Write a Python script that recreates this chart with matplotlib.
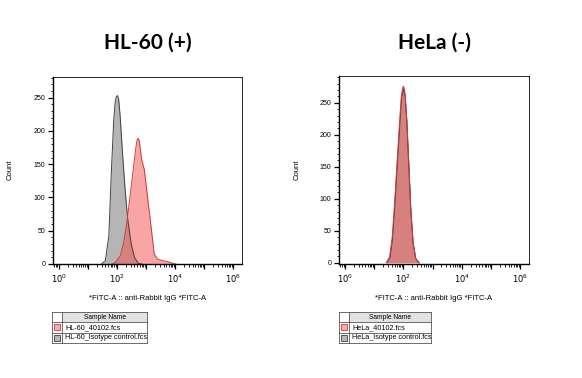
import numpy as np
import matplotlib
matplotlib.use("Agg")
import matplotlib.pyplot as plt
from matplotlib.ticker import MultipleLocator, LogLocator, NullFormatter
from matplotlib.patches import Rectangle

# Histogram outlines: log10(FITC-A) position and count
hl60_iso_log = [1.47, 1.60, 1.72, 1.81, 1.89, 1.94, 1.98, 2.02, 2.06, 2.11,
                2.19, 2.28, 2.37, 2.49, 2.60, 2.73, 2.85]
hl60_iso_cnt = [0, 5, 42, 142, 217, 244, 252, 253, 247, 222,
                167, 112, 67, 30, 10, 1, 0]
hl60_pos_log = [1.83, 1.94, 2.11, 2.23, 2.34, 2.45, 2.56, 2.64, 2.69, 2.73,
                2.77, 2.85, 2.94, 3.02, 3.13, 3.21, 3.28, 3.41, 3.58, 3.75,
                3.92, 4.03]
hl60_pos_cnt = [0, 2, 12, 32, 62, 102, 142, 172, 186, 189,
                184, 157, 142, 112, 72, 42, 15, 7, 5, 3.5,
                1, 0]
hela_pos_log = [1.42, 1.53, 1.62, 1.70, 1.79, 1.87, 1.93, 1.97, 2.00, 2.03,
                2.06, 2.12, 2.20, 2.26, 2.34, 2.43, 2.55]
hela_pos_cnt = [0, 9, 40, 93, 161, 219, 260, 272, 276, 273,
                264, 224, 145, 82, 30, 6, 0]
hela_iso_log = [1.44, 1.55, 1.63, 1.71, 1.80, 1.88, 1.94, 2.00, 2.06, 2.12,
                2.19, 2.25, 2.33, 2.42, 2.53]
hela_iso_cnt = [0, 8, 36, 88, 155, 214, 256, 272, 262, 220,
                148, 86, 32, 7, 0]

titles = ["HL-60 (+)", "HeLa (-)"]
sample_names = [["HL-60_40102.fcs", "HL-60_Isotype control.fcs"],
                ["HeLa_40102.fcs", "HeLa_Isotype control.fcs"]]
xlabel = "*FITC-A :: anti-Rabbit IgG *FITC-A"

red_face = (0.97, 0.30, 0.30)
red_edge = "#c83c3c"
gray_face = (0.52, 0.52, 0.52)
gray_edge = "#404040"

W, H = 582, 378
fig = plt.figure(figsize=(W / 100, H / 100), dpi=100)
plt.rcParams['font.family'] = ['Liberation Sans', 'DejaVu Sans']


def px_axes(x0, y0, x1, y1):
    """Axes from pixel box (top-left origin)."""
    return fig.add_axes([x0 / W, 1 - y1 / H, (x1 - x0) / W, (y1 - y0) / H])


panels = [
    dict(box=(53, 77, 242, 264), ylim=(0, 281),
         iso=(hl60_iso_log, hl60_iso_cnt), pos=(hl60_pos_log, hl60_pos_cnt),
         ylab_x=10, table=(52, 312, 147)),
    dict(box=(339, 76, 529, 264), ylim=(-2, 292),
         iso=(hela_iso_log, hela_iso_cnt), pos=(hela_pos_log, hela_pos_cnt),
         ylab_x=297, table=(339, 312, 431)),
]

for i, p in enumerate(panels):
    ax = px_axes(*p['box'])
    xi = 10 ** np.array(p['iso'][0])
    xp = 10 ** np.array(p['pos'][0])
    ax.fill_between(xi, p['iso'][1], color=gray_face, alpha=0.6, lw=0)
    ax.plot(xi, p['iso'][1], color=gray_edge, lw=0.7)
    ax.fill_between(xp, p['pos'][1], color=red_face, alpha=0.5, lw=0)
    ax.plot(xp, p['pos'][1], color=red_edge, lw=0.7)

    ax.set_xscale('log')
    ax.set_xlim(10 ** -0.2, 10 ** 6.3)
    ax.set_ylim(*p['ylim'])
    ax.set_xticks([10.0 ** k for k in range(7)])
    ax.set_xticklabels([r'$10^{%d}$' % k if k % 2 == 0 else '' for k in range(7)])
    ax.xaxis.set_minor_locator(LogLocator(base=10, subs=np.arange(2, 10), numticks=20))
    ax.xaxis.set_minor_formatter(NullFormatter())
    ax.yaxis.set_major_locator(MultipleLocator(50))
    ax.yaxis.set_minor_locator(MultipleLocator(10))
    ax.tick_params(which='major', length=3.5, width=0.9, labelsize=5, pad=2)
    ax.tick_params(which='minor', length=1.8, width=0.6)
    ax.tick_params(axis='x', labelsize=6, pad=3)
    for s in ax.spines.values():
        s.set_linewidth(0.6)
    ax.spines['left'].set_linewidth(1.0)
    ax.spines['bottom'].set_linewidth(1.0)

    x0, y0, x1, y1 = p['box']
    fig.text((x0 + x1) / 2 / W, 1 - 43 / H, titles[i], ha='center', va='center',
             fontsize=15, fontweight='bold', family=['Lato', 'DejaVu Sans'])
    fig.text(p['ylab_x'] / W, 1 - 170 / H, "Count", rotation=90,
             ha='center', va='center', fontsize=5.5)
    fig.text((x0 + x1) / 2 / W, 1 - 298 / H, xlabel, ha='center', va='center',
             fontsize=5.5)

    # sample legend table
    tx0, ty0, tx1 = p['table']
    rh = 10.3
    tab = px_axes(tx0, ty0, tx1, ty0 + 3 * rh)
    tab.set_xlim(tx0, tx1)
    tab.set_ylim(ty0 + 3 * rh, ty0)
    tab.axis('off')
    tab.add_patch(Rectangle((tx0 + 10, ty0), tx1 - tx0 - 10, rh,
                            facecolor='#e2e2e2', edgecolor='none'))
    for r in range(4):
        tab.plot([tx0, tx1], [ty0 + r * rh] * 2, color='#555555', lw=0.6,
                 clip_on=False)
    for xx in (tx0, tx0 + 10, tx1):
        tab.plot([xx, xx], [ty0, ty0 + 3 * rh], color='#555555', lw=0.6,
                 clip_on=False)
    tab.text((tx0 + 10 + tx1) / 2, ty0 + rh / 2, "Sample Name", ha='center',
             va='center', fontsize=4.8)
    swatch = [((1.0, 0.66, 0.66), red_edge), ((0.72, 0.72, 0.72), gray_edge)]
    for r, name in enumerate(sample_names[i]):
        yc = ty0 + (r + 1.5) * rh
        fc, ec = swatch[r]
        tab.add_patch(Rectangle((tx0 + 2, yc - 3), 6, 6, facecolor=fc,
                                edgecolor=ec, lw=0.6))
        tab.text(tx0 + 13, yc, name, ha='left', va='center', fontsize=5.2,
                 clip_on=True)

fig.savefig("out.png", dpi=100)
